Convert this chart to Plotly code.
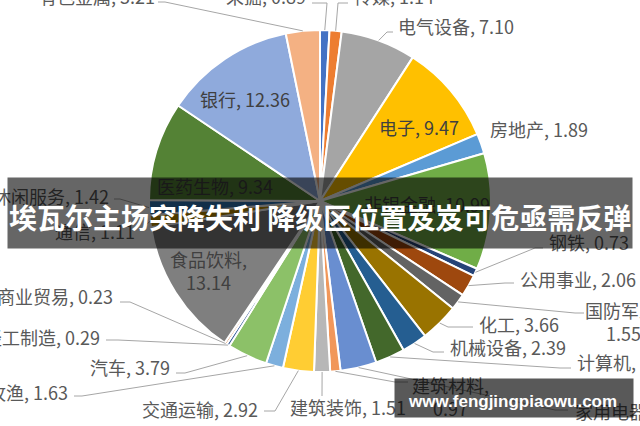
import plotly.graph_objects as go
import math

# ---------------- data ----------------
industries = ["采掘", "传媒", "电气设备", "电子", "房地产", "非银金融", "钢铁", "公用事业",
              "国防军工", "化工", "机械设备", "计算机", "家用电器", "建筑材料", "建筑装饰",
              "交通运输", "农林牧渔", "汽车", "轻工制造", "商业贸易", "食品饮料", "通信",
              "休闲服务", "医药生物", "银行", "有色金属"]
weights = [0.89, 1.14, 7.10, 9.47, 1.89, 10.99, 0.73, 2.06,
           1.55, 3.66, 2.39, 2.80, 3.41, 0.97, 1.51,
           2.92, 1.63, 3.79, 0.29, 0.23, 13.14, 1.11,
           1.42, 9.34, 12.36, 3.21]
slice_colors = ["#4472C4", "#ED7D31", "#A5A5A5", "#FFC000", "#5B9BD5", "#70AD47", "#264478", "#9E480E",
                "#636363", "#997300", "#255E91", "#43682B", "#698ED0", "#F1975A", "#B7B7B7",
                "#FFCD33", "#7CAFDD", "#8CC168", "#2F5597", "#C55A11", "#7F7F7F", "#BF9000",
                "#2E75B6", "#548235", "#8FAADC", "#F4B183"]
banner_text = "埃瓦尔主场突降失利 降级区位置岌岌可危亟需反弹"
watermark_text = "www.fengjingpiaowu.com"

# ---------------- layout constants ----------------
W, H = 640, 426
CX, CY, R = 320, 201, 171
TEXT_DY = -1  # small vertical correction for CJK text placement

def X(px):
    return px / W

def Y(py):
    return 1 - py / H

# label placement: name -> (text x, text y, xanchor, line points after anchor, inside)
label_layout = {
    "采掘":     (308, -3, "right", [(327, 3), (312, 3)], False),
    "传媒":     (352, -3, "left", [(338, 3), (348, 3)], False),
    "电气设备": (396, 27, "left", [(387, 32), (393, 32)], False),
    "电子":     (419, 128, "center", None, True),
    "房地产":   (488, 130, "left", None, False),
    "非银金融": (427, 205, "center", None, True),
    "钢铁":     (547, 243, "left", [(535, 248), (543, 248)], False),
    "公用事业": (518, 280, "left", [(505, 283), (514, 283)], False),
    "国防军工": (623, 322, "center", [(575, 313), (584, 313)], False),
    "化工":     (477, 325, "left", [(448, 327), (473, 327)], False),
    "机械设备": (448, 348, "left", [(433, 352), (444, 352)], False),
    "计算机":   (575, 363, "left", [(560, 368), (571, 368)], False),
    "家用电器": (573, 412, "left", [(555, 410), (568, 410)], False),
    "建筑材料": (450, 397, "center", [(395, 382), (408, 382)], False),
    "建筑装饰": (348, 408, "center", [(322, 396)], False),
    "交通运输": (260, 410, "right", [(275, 411), (264, 411)], False),
    "农林牧渔": (70, 393, "right", [(82, 396), (74, 396)], False),
    "汽车":     (172, 368, "right", [(185, 373), (176, 373)], False),
    "轻工制造": (102, 338, "right", [(118, 340), (106, 340)], False),
    "商业贸易": (115, 297, "right", [(130, 302), (120, 302)], False),
    "食品饮料": (208, 271, "center", None, True),
    "通信":     (137, 232, "right", [(141, 229)], False),
    "休闲服务": (111, 197, "right", [(120, 199), (114, 199)], False),
    "医药生物": (215, 187, "center", None, True),
    "银行":     (245, 100, "center", None, True),
    "有色金属": (157, -3, "right", [(165, 2), (158, 2)], False),
}
two_line = {"国防军工", "建筑材料", "食品饮料"}

LABEL_FONT = "Noto Sans CJK SC"
LABEL_SIZE = 18

fig = go.Figure()
fig.add_trace(go.Pie(
    labels=industries, values=weights, sort=False, direction="clockwise", rotation=0,
    marker=dict(colors=slice_colors, line=dict(color="white", width=2)),
    textinfo="none", hoverinfo="label+value", showlegend=False,
    domain=dict(x=[0, 1], y=[Y(CY + R), Y(CY - R)]),
))

total = sum(weights)
shapes = []
annotations = []
cum = 0.0
for name, v in zip(industries, weights):
    mid = (cum + v / 2) / total * 2 * math.pi
    cum += v
    ax_ = CX + R * math.sin(mid)
    ay_ = CY - R * math.cos(mid)
    tx, ty, anchor, pts, inside = label_layout[name]
    text = f"{name},<br>{v:.2f}" if name in two_line else f"{name}, {v:.2f}"
    if pts:
        path = f"M {X(ax_)} {Y(ay_)}" + "".join(f" L {X(p[0])} {Y(p[1])}" for p in pts)
        shapes.append(dict(type="path", path=path, xref="paper", yref="paper",
                           line=dict(color="#A6A6A6", width=1), layer="above"))
    annotations.append(dict(
        x=X(tx), y=Y(ty + TEXT_DY), xref="paper", yref="paper", xanchor=anchor, yanchor="middle",
        text=text, showarrow=False, align="center",
        font=dict(family=LABEL_FONT, size=LABEL_SIZE, color="#404040" if inside else "#595959"),
    ))

# banner background + text
annotations.append(dict(x=X(320), y=Y(213), xref="paper", yref="paper", xanchor="center",
                        yanchor="middle", text=" ", showarrow=False, width=624, height=70,
                        bgcolor="rgba(0,0,0,0.6)", borderpad=0))
annotations.append(dict(x=X(320), y=Y(217), xref="paper", yref="paper", xanchor="center",
                        yanchor="middle", text=f"<b>{banner_text}</b>", showarrow=False,
                        font=dict(family="Noto Sans CJK SC", size=28, color="white")))
# watermark
annotations.append(dict(x=X(514), y=Y(398), xref="paper", yref="paper", xanchor="center",
                        yanchor="middle", text=" ", showarrow=False, width=238, height=38,
                        bgcolor="rgba(0,0,0,0.65)", borderpad=0))
annotations.append(dict(x=X(512), y=Y(401), xref="paper", yref="paper", xanchor="center",
                        yanchor="middle", text=f"<b>{watermark_text}</b>", showarrow=False,
                        font=dict(family="Liberation Sans", size=17, color="white")))

fig.update_layout(
    width=W, height=H, margin=dict(l=0, r=0, t=0, b=0),
    paper_bgcolor="white", plot_bgcolor="white",
    shapes=shapes, annotations=annotations,
)
fig.write_html("out.html", config={"displayModeBar": False},
               post_script="document.body.style.margin='0';document.body.style.padding='0';")
